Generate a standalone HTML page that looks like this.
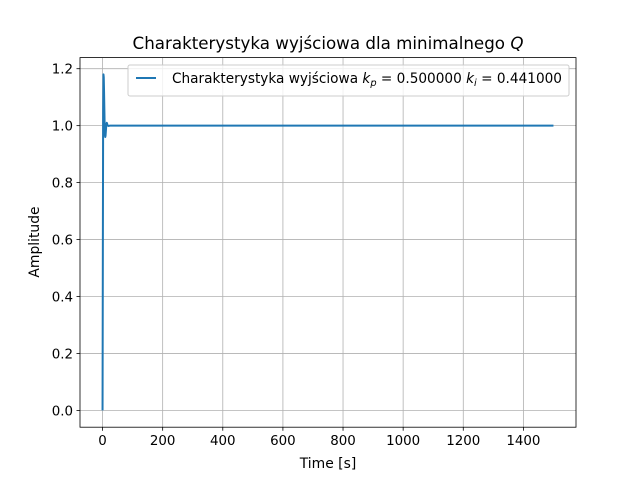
<!DOCTYPE html>
<html><head><meta charset="utf-8"><style>
body{margin:0;background:#fff;}
svg{font-family:"DejaVu Sans","Liberation Sans",sans-serif;}
</style></head><body>
<svg id="c" width="640" height="480" viewBox="0 0 640 480">
<rect width="640" height="480" fill="#fff"/>
<g id="grid"></g>
<g id="plot"></g>
<rect x="80" y="57.6" width="496" height="369.6" fill="none" stroke="#000" stroke-width="0.8"/>
<g id="ticks" font-size="13.4"></g>
<text x="328" y="49" text-anchor="middle" font-size="16.7">Charakterystyka wyjściowa dla minimalnego <tspan font-style="italic">Q</tspan></text>
<text x="328" y="468" text-anchor="middle" font-size="13.9">Time [s]</text>
<text transform="translate(39,242) rotate(-90)" text-anchor="middle" font-size="13.9">Amplitude</text>
<g>
<rect x="128" y="65" width="441" height="31" rx="2" fill="#fff" fill-opacity="0.8" stroke="#ccc"/>
<line x1="136" y1="78" x2="156" y2="78" stroke="#1f77b4" stroke-width="2"/>
<text x="172" y="83" font-size="13.9" textLength="390" lengthAdjust="spacingAndGlyphs">Charakterystyka wyjściowa <tspan font-style="italic">k</tspan><tspan font-size="10" dy="3" font-style="italic">p</tspan><tspan dy="-3"> = 0.500000 </tspan><tspan font-style="italic">k</tspan><tspan font-size="10" dy="3" font-style="italic">i</tspan><tspan dy="-3"> = 0.441000</tspan></text>
</g>
</svg>
<script>
const times=[0,1,2,3,4,5,6,7,8,9,10,11,12,13,14,15,16,18,20,25,30,50,100,500,1000,1500];
const values=[0,0.55,1.05,1.18,1.17,1.12,1.06,1.0,0.97,0.96,0.965,0.98,0.995,1.005,1.01,1.008,1.003,1.0,0.999,1.0,1.0,1.0,1.0,1.0,1.0,1.0];
const xTicks=[0,200,400,600,800,1000,1200,1400];
const yTicks=[0,0.2,0.4,0.6,0.8,1.0,1.2];
const ns='http://www.w3.org/2000/svg';
const X=v=>80+(v+75)/1650*496;
const Y=v=>427.2-(v+0.059)/(1.239+0.059)*369.6;
const grid=document.getElementById('grid'),ticks=document.getElementById('ticks'),plot=document.getElementById('plot');
function mk(tag,at,parent){const e=document.createElementNS(ns,tag);for(const k in at)e.setAttribute(k,at[k]);parent.appendChild(e);return e;}
xTicks.forEach(t=>{const x=X(t);
const g=mk('line',{x1:x,x2:x,y1:57.6,y2:427.2,stroke:'#b0b0b0','stroke-width':0.8},grid);


mk('line',{x1:x,x2:x,y1:427.2,y2:430.7,stroke:'#000','stroke-width':0.8},ticks);
const tx=mk('text',{x:x,y:445,'text-anchor':'middle'},ticks);tx.textContent=t;

});
yTicks.forEach(t=>{const y=Y(t);
const g=mk('line',{x1:80,x2:576,y1:y,y2:y,stroke:'#b0b0b0','stroke-width':0.8},grid);


mk('line',{x1:76.5,x2:80,y1:y,y2:y,stroke:'#000','stroke-width':0.8},ticks);
const tx=mk('text',{x:73,y:y+5,'text-anchor':'end'},ticks);tx.textContent=t.toFixed(1);

});
const p=mk('polyline',{points:times.map((t,i)=>X(t)+','+Y(values[i])).join(' '),fill:'none',stroke:'#1f77b4','stroke-width':2,'stroke-linejoin':'round'},plot);


</script>
</body></html>
